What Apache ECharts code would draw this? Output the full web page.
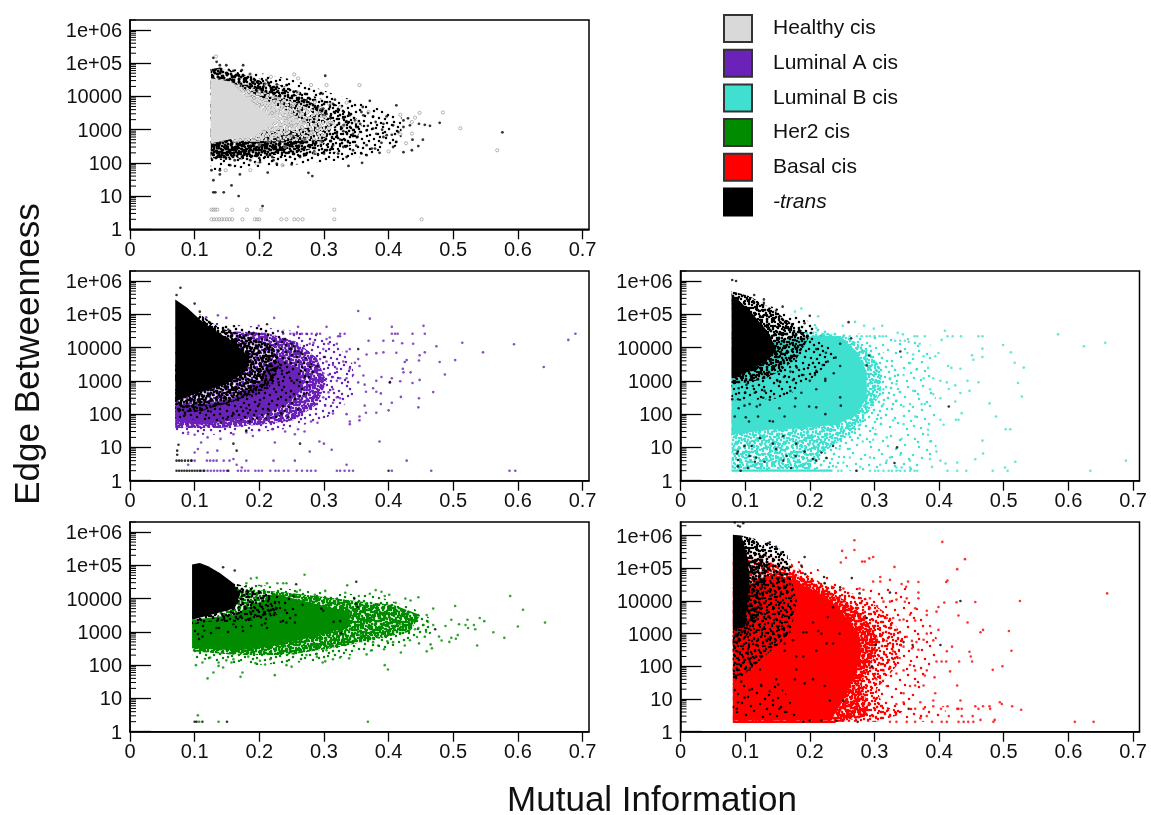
<!DOCTYPE html>
<html><head><meta charset="utf-8">
<style>html,body{margin:0;background:#fff}#c{width:1151px;height:815px}</style>
<script src="https://cdn.jsdelivr.net/npm/echarts@6/dist/echarts.min.js"></script>
</head><body><div id="c"></div>
<script>
const xTicks=[0,0.1,0.2,0.3,0.4,0.5,0.6,0.7];
const yTicks=[1,10,100,1000,10000,100000,1000000];
const yMinor=[2,3,4,5,6,7,8,9,20,30,40,50,60,70,80,90,200,300,400,500,600,700,800,900,2000,3000,4000,5000,6000,7000,8000,9000,20000,30000,40000,50000,60000,70000,80000,90000,200000,300000,400000,500000,600000,700000,800000,900000,2000000];
const yTickLabels={1:'1',10:'10',100:'100',1000:'1000',10000:'10000',100000:'1e+05',1000000:'1e+06'};
const legendNames=['Healthy cis','Luminal A cis','Luminal B cis','Her2 cis','Basal cis','-trans'];

// Healthy: outlines of the dense clouds, then individually read points
const hCore=[[.125,3.5e4],[.155,2.8e4],[.18,9800],[.211,3000],[.227,1900],[.211,1200],[.191,600],[.16,540],[.125,380]];
const hGrayFringe=[[.155,2.8e4],[.191,1.2e4],[.242,3800],[.273,1500],[.242,680],[.201,430],[.16,430]];
const hGrayOuter=[[.155,2.8e4],[.2,1.5e4],[.25,7000],[.3,3000],[.32,1500],[.3,500],[.25,450],[.2,450],[.16,430]];
const hSparse=[[.125,7.9e4],[.191,5.5e4],[.253,3.2e4],[.314,1.2e4],[.376,5000],[.42,2500],[.42,350],[.376,190],[.345,130],[.294,100],[.242,85],[.18,70],[.125,60]];
const hMed=[[.125,7e4],[.155,6.2e4],[.191,3.9e4],[.232,2.2e4],[.273,1.2e4],[.314,6500],[.345,3000],[.36,1200],[.345,350],[.314,190],[.263,150],[.191,130],[.125,120]];
const hMedInner=[[.125,7e4],[.155,6e4],[.191,3.5e4],[.232,1.8e4],[.273,8000],[.3,4000],[.315,1500],[.3,350],[.263,200],[.191,150],[.125,130]];
const hDenseLow=[[.125,430],[.125,135],[.155,150],[.191,190],[.227,240],[.258,300],[.278,540],[.242,1070],[.211,950],[.191,540],[.16,430]];
const hDenseUp=[[.125,6.5e4],[.139,7.4e4],[.165,4.4e4],[.201,1.8e4],[.227,1e4],[.191,8700],[.165,2.2e4],[.149,3e4],[.125,3.2e4]];
const hTrans=[[.129,1.45e5],[.134,1.1e5],[.139,8.7e4],[.149,8.7e4],[.175,8.7e4],[.173,6.2e4],[.16,5.9e4],[.302,4.2e4],[.294,1.2e4],[.298,1.2e4],[.317,8000],[.34,7000],[.371,7400],[.412,5400],[.36,4800],[.376,2500],[.397,2500],[.423,1900],[.43,2200],[.447,1500],[.456,1400],[.464,1300],[.479,1600],[.576,830],[.338,81],[.359,100],[.276,50],[.282,40],[.213,51],[.129,30],[.139,45],[.157,21],[.168,10],[.129,13],[.132,13],[.145,13],[.205,5],[.366,340],[.379,270],[.392,600],[.407,300],[.412,430],[.423,210],[.436,240],[.437,500],[.446,320],[.453,500],[.386,200],[.389,400],[.374,270],[.358,190],[.366,170],[.335,150],[.345,240],[.322,190],[.304,240],[.314,340],[.273,190],[.263,150],[.25,90],[.227,95],[.222,120],[.201,105],[.17,45],[.155,85],[.139,60],[.126,60],[.162,120],[.186,120],[.392,1500],[.376,1070],[.366,950],[.356,1500],[.348,1900],[.34,2700],[.33,1350],[.32,750],[.345,750],[.361,2700],[.358,3400],[.381,750],[.397,680],[.407,1350],[.415,850],[.423,1200],[.433,1350],[.314,6000],[.294,3000],[.273,7700],[.253,1.4e4],[.242,2.2e4],[.227,2.3e4],[.211,3.1e4],[.191,2.7e4],[.175,4.4e4],[.304,3000],[.322,3800],[.286,4900],[.271,1.2e4],[.299,4300],[.33,2200],[.31,2500],[.335,1800],[.35,1200],[.325,500],[.31,450],[.29,700],[.33,900],[.352,600],[.368,1300],[.38,1700],[.39,1000],[.405,700],[.285,220],[.27,280],[.26,230],[.3,190],[.33,300],[.35,330],[.22,150],[.2,140]];
const hCis=[[.133,1.6e5],[.186,4.6e4],[.218,3.9e4],[.254,4.6e4],[.26,3.5e4],[.28,2.2e4],[.304,2.2e4],[.355,2.2e4],[.286,6800],[.26,1.3e4],[.294,4500],[.325,4800],[.335,6500],[.369,3400],[.418,2800],[.448,3200],[.484,3300],[.441,2300],[.436,1700],[.511,1100],[.568,240],[.4,220],[.427,390],[.418,720],[.436,760],[.308,6000],[.286,200],[.196,95],[.236,85],[.186,60],[.148,60],[.25,1300],[.27,1900],[.29,1100],[.31,1600],[.28,800],[.245,2500],[.262,3500],[.3,2600],[.33,1300],[.35,1700],[.23,500],[.25,650],[.27,500],[.295,420],[.24,300],[.215,450],[.2,350],[.25,5000],[.235,6500],[.225,9000],[.2,1.4e4],[.21,2.2e4],
[.126,3.9],[.129,3.9],[.132,3.9],[.135,3.9],[.158,3.9],[.181,3.9],[.203,3.9],[.316,3.9],[.126,2],[.13,2],[.134,2],[.138,2],[.142,2],[.146,2],[.15,2],[.154,2],[.158,2],[.174,2],[.193,2],[.197,2],[.2,2],[.234,2],[.242,2],[.254,2],[.26,2],[.267,2],[.316,2],[.451,2]];

// Luminal A
const aSparse=[[.07,24],[.139,24],[.191,27],[.253,38],[.304,76],[.345,300],[.345,3100],[.32,1.2e4],[.294,2.5e4],[.216,3.9e4],[.139,5.5e4],[.07,5.5e4]];
const aMed=[[.07,300],[.07,38],[.139,38],[.201,48],[.253,66],[.289,190],[.304,960],[.289,4900],[.258,1.5e4],[.211,2.8e4],[.155,3.1e4]];
const aCore=[[.07,190],[.07,60],[.108,48],[.16,66],[.206,95],[.242,190],[.268,600],[.263,1950],[.232,4900],[.211,3100],[.201,960],[.16,300],[.108,190]];
const aBlack=[[.07,2.8e5],[.088,1.6e5],[.108,7e4],[.129,3.5e4],[.16,1.5e4],[.185,5000],[.18,2000],[.15,800],[.1,400],[.07,240]];
const aBlackMed=[[.108,1e5],[.139,3.9e4],[.18,2.2e4],[.22,1.2e4],[.232,3100],[.215,600],[.16,240],[.108,120],[.07,120],[.07,3000]];
const aBlackSparse=[[.139,4.9e4],[.211,3.9e4],[.253,1.2e4],[.289,2450],[.273,380],[.227,76],[.139,60],[.07,76],[.07,3000]];
const aCis=[[.353,1.26e5],[.371,7.4e4],[.223,7.8e4],[.149,7.8e4],[.136,9.3e4],[.118,8.1e4],[.304,4.2e4],[.26,4.2e4],[.199,4.5e4],[.405,4.2e4],[.454,4.5e4],[.41,2.6e4],[.405,2.6e4],[.414,2.6e4],[.437,2.6e4],[.456,2.6e4],[.689,2.6e4],[.678,1.7e4],[.594,1.26e4],[.546,7200],[.514,1.4e4],[.474,1.1e4],[.438,1.3e4],[.421,1.35e4],[.407,1.6e4],[.392,1.6e4],[.369,1.6e4],[.332,2.6e4],[.325,2.6e4],[.322,2.2e4],[.294,2.6e4],[.289,2.6e4],[.281,2.6e4],[.273,2.6e4],[.266,2.6e4],[.258,2.6e4],[.253,2.6e4],[.248,2.6e4],[.237,2.6e4],[.64,2600],[.503,4200],[.479,3700],[.487,1550],[.448,1070],[.437,860],[.469,460],[.447,300],[.446,160],[.419,330],[.418,970],[.405,1200],[.402,920],[.392,7200],[.381,6800],[.366,6200],[.412,7000],[.428,4200],[.447,4100],[.456,7200],[.448,5900],[.425,3700],[.422,2300],[.423,1800],[.434,1800],[.381,1000],[.389,1300],[.376,600],[.381,470],[.388,420],[.363,770],[.365,470],[.353,900],[.34,2300],[.345,1500],[.361,1450],[.335,1200],[.325,1200],[.32,2300],[.314,3000],[.33,3800],[.335,7600],[.34,9000],[.353,4500],[.348,3500],[.355,2800],[.299,9000],[.307,1.3e4],[.32,1.3e4],[.309,2e4],[.304,1.8e4],[.325,2.2e4],[.284,1.4e4],[.278,1.3e4],[.294,4500],[.304,3800],[.299,1700],[.307,1500],[.314,1300],[.32,1000],[.314,560],[.307,450],[.299,320],[.32,320],[.325,300],[.314,220],[.302,180],[.314,105],[.335,100],[.34,60],[.34,50],[.355,85],[.355,65],[.363,180],[.365,110],[.381,110],[.388,200],[.4,130],[.405,220],[.386,15],[.428,4],[.466,2],[.587,2],[.596,2],[.405,2],[.345,2],[.339,2],[.332,2],[.325,2],[.32,2],[.335,3],[.312,8.5],[.3,13],[.293,15],[.278,7.5],[.224,14],[.255,4],[.222,4],[.18,4],[.154,4],[.145,4],[.134,4],[.129,4],[.124,4],[.119,4],[.1,4],[.095,4],[.09,3],[.1,7],[.105,9],[.12,7],[.135,8],[.16,4.5],[.165,3],[.173,2.5],[.11,2],[.115,2],[.12,2],[.125,2],[.13,2],[.135,2],[.14,2],[.145,2],[.15,2],[.167,2],[.172,2],[.178,2],[.183,2],[.194,2],[.199,2],[.204,2],[.217,2],[.225,2],[.23,2],[.238,2],[.245,2],[.258,2],[.266,2],[.274,2],[.28,2],[.287,2],[.29,55],[.28,60],[.27,30],[.26,35],[.255,25],[.24,30],[.22,35],[.2,33],[.19,22],[.18,28],[.16,25],[.14,18],[.12,20],[.11,14],[.1,24],[.09,28]];
const aTrans=[[.078,6.3e5],[.072,3.8e5],[.1,2.1e5],[.108,1.2e5],[.212,5e4],[.236,3e4],[.191,2.8e4],[.152,3.5e4],[.353,9000],[.263,13],[.16,13],[.165,8],[.075,12],[.073,8],[.073,6],[.072,4],[.076,4],[.08,4],[.085,4],[.09,4],[.095,4],[.072,2],[.076,2],[.08,2],[.084,2],[.088,2],[.092,2],[.096,2],[.1,2],[.104,2],[.108,2],[.114,2],[.152,2],[.4,2],[.402,900],[.24,1.8e4],[.25,1.3e4],[.23,8000],[.26,7500],[.22,6000],[.24,3500],[.21,3000],[.225,1600],[.205,1300],[.28,3200],[.3,5200],[.27,1300],[.29,2800],[.22,850],[.19,500],[.165,350],[.15,200],[.13,180],[.11,130],[.085,95],[.1,160],[.125,120],[.16,100],[.18,150],[.2,200],[.215,130],[.235,100],[.21,75],[.185,60],[.15,70],[.14,55],[.245,80],[.26,140],[.18,32],[.265,7000],[.25,9000],[.235,2000],[.25,1000],[.23,900]];

// Luminal B
const bSparse=[[.079,2],[.37,2],[.396,7.5],[.396,190],[.391,1900],[.386,1.5e4],[.314,2.5e4],[.241,2.8e4],[.2,6e4],[.079,3e4]];
const bMed=[[.079,2.2],[.236,2.2],[.252,7.5],[.314,48],[.345,480],[.334,3000],[.303,1.2e4],[.252,2.5e4],[.205,5e4],[.079,5e4]];
const bInner=[[.079,2.2],[.2,2.2],[.22,7],[.27,30],[.31,400],[.31,2500],[.29,8000],[.26,2e4],[.21,3e4],[.079,3e4]];
const bCore=[[.079,1e4],[.138,1.5e4],[.21,2.3e4],[.247,2.2e4],[.272,7700],[.288,1900],[.288,300],[.272,95],[.241,48],[.19,38],[.138,34],[.079,24]];
const bRow=[[.079,2],[.235,2]];
const bBlack=[[.079,4e5],[.0915,2.5e5],[.112,1e5],[.138,2.5e4],[.148,8000],[.133,4000],[.107,2000],[.081,1200],[.079,1200]];
const bBlackMed=[[.079,5e5],[.107,3.5e5],[.138,1.6e5],[.174,5e4],[.2,2.2e4],[.18,4800],[.153,1900],[.128,1100],[.081,760]];
const bBlackSparse=[[.138,1.8e5],[.2,6e4],[.22,2e4],[.24,5000],[.2,1000],[.16,300],[.079,250],[.079,1000]];
const bCis=[[.584,2.5e4],[.657,1.4e4],[.624,1.1e4],[.499,1.2e4],[.511,7200],[.517,3500],[.531,2500],[.522,860],[.528,340],[.478,210],[.488,85],[.503,35],[.51,35],[.467,16],[.468,6.6],[.456,4.4],[.518,3.7],[.689,4],[.634,2],[.506,2],[.502,2.5],[.483,2],[.442,2],[.428,2],[.413,2],[.41,3.3],[.428,3.5],[.402,4],[.389,2.6],[.386,4.5],[.396,7.5],[.386,15],[.383,24],[.383,34],[.407,48],[.402,68],[.426,68],[.43,68],[.435,107],[.425,240],[.433,430],[.425,730],[.447,500],[.444,1000],[.461,910],[.433,2300],[.419,2450],[.414,2800],[.453,4300],[.451,5900],[.467,5200],[.467,9300],[.461,2.2e4],[.467,2.2e4],[.434,2.2e4],[.421,2.2e4],[.413,2.2e4],[.409,3.2e4],[.404,1.7e4],[.399,6900],[.394,5500],[.383,2450],[.376,5500],[.36,6200],[.351,6900],[.378,2.2e4],[.366,2.2e4],[.362,2.2e4],[.353,1.5e4],[.347,1.6e4],[.34,1.6e4],[.332,1.6e4],[.344,2.5e4],[.336,2.8e4],[.312,4.5e4],[.299,3.7e4],[.284,4.5e4],[.27,5.9e4],[.251,4.5e4],[.213,8.7e4],[.21,3.9e4],[.187,1.5e5],[.177,1.2e5],[.37,1.3e4],[.355,3400],[.365,2200],[.376,1200],[.391,1200],[.402,1000],[.412,900],[.415,570],[.402,300],[.391,400],[.386,560],[.36,500],[.345,1500],[.334,800],[.324,1200],[.314,560],[.314,200],[.334,250],[.345,170],[.355,200],[.373,200],[.378,200],[.363,85],[.345,50],[.329,65],[.319,20],[.303,25],[.324,5],[.309,3],[.293,5],[.278,2.6],[.262,5],[.252,3.5],[.241,2.6],[.355,4],[.34,6],[.342,18],[.319,4],[.298,17],[.282,15],[.262,9],[.246,9],[.334,2.5],[.342,2.5],[.355,2.5],[.244,2],[.249,2],[.273,2],[.293,2],[.301,2],[.306,2],[.314,2],[.322,2],[.327,2],[.334,2],[.34,2],[.347,2],[.355,2],[.362,2],[.366,2],[.252,2.2e4],[.262,2.2e4],[.273,2.2e4],[.28,2.2e4],[.288,2.2e4],[.293,2.2e4],[.3,2.2e4],[.308,2.2e4],[.313,2.2e4],[.318,2.2e4]];
const bTrans=[[.08,1.07e6],[.086,1e6],[.114,3.8e5],[.129,2.8e5],[.129,2.2e5],[.158,1.7e5],[.148,1.3e5],[.2,9e4],[.192,5.4e4],[.19,2.4e4],[.26,5.8e4],[.264,1.9e4],[.247,1.3e4],[.34,7600],[.292,5800],[.288,2900],[.247,2800],[.237,1700],[.224,1150],[.21,560],[.2,1000],[.247,320],[.248,180],[.224,100],[.21,160],[.199,170],[.177,170],[.178,300],[.153,150],[.161,85],[.138,270],[.123,190],[.118,170],[.107,200],[.099,180],[.09,150],[.089,280],[.08,280],[.084,85],[.101,80],[.106,60],[.12,85],[.138,62],[.143,60],[.123,19],[.159,22],[.179,13],[.236,11],[.335,10],[.331,3.4],[.272,2],[.226,4.8],[.218,7],[.205,4.5],[.21,4],[.192,7.5],[.178,5.5],[.164,5.5],[.159,4],[.148,9],[.143,13],[.13,3.7],[.117,5],[.115,3.7],[.107,5.5],[.104,2.4],[.099,11],[.11,11],[.089,7.5],[.087,6.6],[.089,4.2],[.089,2.7],[.093,2],[.171,2.4],[.415,170],[.102,760],[.115,440],[.128,310],[.154,950],[.174,1050],[.187,440],[.224,1000],[.21,2000],[.208,1500],[.228,3800],[.112,700],[.24,5000],[.225,7000],[.21,9000],[.22,3000],[.17,1900],[.18,2500],[.19,1500],[.16,1300],[.15,1000],[.13,500],[.17,500],[.1,450],[.09,600],[.14,4000],[.16,4000]];

// Her2
const gSparse=[[.096,160],[.191,100],[.294,130],[.397,320],[.464,800],[.474,2000],[.438,5100],[.376,1.3e4],[.314,1.45e4],[.258,1.8e4],[.201,2.6e4],[.096,2.6e4]];
const gMed=[[.096,260],[.165,200],[.242,200],[.314,320],[.376,570],[.433,1000],[.449,3200],[.407,6500],[.356,8100],[.294,1.15e4],[.232,1.6e4],[.165,2e4]];
const gCore=[[.096,2300],[.096,320],[.129,300],[.17,280],[.216,360],[.263,570],[.304,910],[.34,1450],[.34,4100],[.304,5800],[.263,9100],[.227,1.3e4],[.191,6500],[.16,3200]];
const gBlack=[[.096,1.05e5],[.108,1.18e5],[.121,9.3e4],[.139,5.9e4],[.16,2.9e4],[.17,1.3e4],[.162,5100],[.124,3200],[.096,2300]];
const gBlackMed=[[.162,2.9e4],[.206,1.6e4],[.232,8100],[.227,3200],[.18,2000],[.119,2000],[.096,1600],[.096,3000]];
const gBlackSparse=[[.206,1.6e4],[.258,1e4],[.258,2600],[.212,1000],[.139,900],[.096,460],[.096,1600],[.18,2000]];
const gCis=[[.588,1.2e4],[.608,4600],[.6,1450],[.642,1900],[.579,660],[.562,970],[.548,2100],[.541,2600],[.537,390],[.534,1200],[.532,1600],[.522,2300],[.523,1300],[.509,1700],[.519,1600],[.503,6000],[.497,2300],[.488,1500],[.507,800],[.504,620],[.497,660],[.494,500],[.482,550],[.478,720],[.469,5000],[.459,3200],[.446,1.1e4],[.434,8800],[.426,1e4],[.411,7500],[.401,1.3e4],[.394,1.2e4],[.389,1.6e4],[.38,1.8e4],[.371,1.4e4],[.354,1.2e4],[.336,2.5e4],[.302,1.7e4],[.27,5.2e4],[.242,2.9e4],[.237,2.9e4],[.228,2.9e4],[.212,2.9e4],[.196,4.2e4],[.187,4e4],[.18,2.9e4],[.203,2.4e4],[.263,1.8e4],[.258,1.6e4],[.286,1.3e4],[.32,1e4],[.333,1.5e4],[.428,3500],[.418,1700],[.433,1200],[.441,1200],[.446,1300],[.454,1600],[.461,2000],[.469,1600],[.444,700],[.447,450],[.433,560],[.425,390],[.419,240],[.407,490],[.398,520],[.393,300],[.384,390],[.376,490],[.374,280],[.366,210],[.399,74],[.394,100],[.339,160],[.325,170],[.314,150],[.302,130],[.298,120],[.289,180],[.289,220],[.304,280],[.32,400],[.335,600],[.345,760],[.356,800],[.467,320],[.465,420],[.459,260],[.456,710],[.458,1000],[.25,90],[.242,100],[.224,50],[.217,150],[.209,105],[.201,135],[.194,115],[.183,180],[.174,60],[.171,45],[.16,150],[.157,120],[.149,140],[.144,85],[.137,95],[.129,60],[.12,40],[.102,100],[.112,120],[.124,170],[.137,120],[.253,220],[.273,200],[.283,400],[.294,370],[.105,3.1],[.137,2],[.368,2],[.107,2]];
const gTrans=[[.1,2],[.103,2],[.112,2],[.15,2],[.35,3.2e4],[.347,1e4],[.352,5500],[.35,7000],[.472,1200],[.327,900],[.315,2000],[.325,2100],[.299,4300],[.296,5000],[.267,6500],[.257,2.7e4],[.253,1.2e4],[.24,4500],[.227,5100],[.224,3700],[.209,3400],[.256,3200],[.255,1900],[.242,1900],[.233,2000],[.204,1600],[.209,1800],[.186,2500],[.16,1700],[.174,1400],[.134,1300],[.115,1100],[.112,720],[.162,7e4],[.144,8.7e4]];

// Basal
const rSparse=[[.081,2],[.41,2],[.41,6],[.36,6],[.39,50],[.4,400],[.39,2000],[.36,8000],[.35,2.5e4],[.26,2.5e4],[.24,4e4],[.2,1.4e5],[.12,3e5],[.081,3e5]];
const rMed=[[.081,2],[.303,2],[.35,3.9],[.314,6],[.303,20],[.334,100],[.345,700],[.324,3500],[.288,1.1e4],[.257,2e4],[.205,4.7e4],[.169,1.5e5],[.128,3e5],[.081,3e5]];
const rInner=[[.081,2],[.25,2],[.29,3],[.29,6],[.28,30],[.3,200],[.305,800],[.285,3000],[.26,9000],[.23,2e4],[.19,5e4],[.14,1.5e5],[.081,2e5]];
const rCore=[[.081,2.2],[.232,2.2],[.25,8],[.27,50],[.28,260],[.275,1100],[.25,4500],[.225,1.4e4],[.2,2.3e4],[.18,4e4],[.154,6e4],[.12,5e4],[.081,1e4]];
const rRow=[[.081,2],[.24,2]];
const rBlack=[[.081,1.05e6],[.094,1e6],[.102,3.1e5],[.107,5.8e4],[.104,1e4],[.099,1600],[.081,1300]];
const rBlackMed=[[.094,1e6],[.115,8e5],[.132,3.5e5],[.135,1e5],[.13,2e4],[.12,3000],[.1,700],[.081,300],[.081,1300]];
const rBlackSparse=[[.13,7e5],[.165,3e5],[.17,6e4],[.18,1e4],[.17,1000],[.14,300],[.1,60],[.081,30],[.081,1300]];
const rBlackThin=[[.081,30],[.15,30],[.19,3],[.081,2.2]];
const rCis=[[.66,1.7e4],[.525,1e4],[.456,9300],[.427,9100],[.408,8900],[.399,6500],[.396,4700],[.381,5000],[.405,6.4e5],[.44,1.9e5],[.428,9.4e4],[.413,4.2e4],[.411,3.8e4],[.269,7.2e5],[.269,3.6e5],[.25,3.4e5],[.256,2.1e5],[.248,1.5e5],[.298,2.2e5],[.292,2e5],[.285,1.6e5],[.281,1.6e5],[.331,1.1e5],[.309,5.4e4],[.309,3.9e4],[.298,3.9e4],[.324,4.4e4],[.368,3.8e4],[.352,3.9e4],[.349,2.7e4],[.342,3.3e4],[.368,1.8e4],[.368,1.2e4],[.35,1.2e4],[.347,9400],[.363,6000],[.355,3800],[.381,3700],[.43,3600],[.444,2200],[.468,1300],[.464,1100],[.508,1200],[.386,1700],[.399,1300],[.381,1000],[.391,620],[.42,400],[.412,290],[.396,140],[.404,140],[.411,140],[.431,140],[.447,280],[.451,140],[.449,200],[.512,300],[.498,100],[.483,78],[.417,70],[.381,75],[.378,52],[.393,46],[.376,26],[.363,26],[.428,26],[.394,15],[.391,9],[.433,9],[.43,5],[.435,5],[.456,6],[.468,6],[.494,8],[.497,7],[.513,6],[.527,4.7],[.479,5],[.478,6],[.461,5],[.428,5],[.413,6],[.403,5],[.391,6],[.376,5],[.371,8],[.363,5],[.345,8],[.334,7],[.61,2],[.639,2],[.486,2.3],[.484,2],[.464,2.3],[.452,3],[.453,2],[.445,2],[.438,2],[.43,2],[.435,3],[.415,3],[.412,2],[.404,2],[.389,2],[.381,3],[.371,2.6],[.363,2],[.35,2],[.334,2],[.324,2],[.376,650],[.368,320],[.358,350],[.35,800],[.358,600],[.345,400],[.365,550],[.334,1300],[.324,1500],[.345,2700],[.319,3000],[.329,3000],[.339,2600],[.363,2500],[.324,9500],[.314,9500],[.304,7000],[.334,1.1e4],[.293,1.2e4],[.283,2.2e4],[.277,2.4e4],[.252,2.4e4],[.319,600],[.329,290],[.339,180],[.324,90],[.334,60],[.345,75],[.355,110],[.363,75],[.355,25],[.345,15],[.319,25],[.303,40],[.314,75]];
const rTrans=[[.084,2.5e6],[.089,2e6],[.097,2.4e6],[.092,1.9e6],[.138,6.2e5],[.148,4.5e5],[.156,3e5],[.192,2.2e5],[.169,1.1e5],[.187,1.2e5],[.193,6.6e4],[.222,5.4e4],[.265,5e4],[.223,3.5e4],[.277,1.7e4],[.324,1.8e4],[.433,1e4],[.236,6400],[.228,3200],[.246,1000],[.302,450],[.345,550],[.359,450],[.402,450],[.296,100],[.252,9],[.353,5],[.19,200],[.21,300],[.179,200],[.226,500],[.236,500],[.218,1000],[.205,2200],[.213,1200],[.195,1100],[.19,1100],[.153,880],[.164,1000],[.161,500],[.174,630],[.161,300],[.117,130],[.107,160],[.104,280],[.089,280],[.087,88],[.089,55],[.094,34],[.107,80],[.123,80],[.148,40],[.151,28],[.138,17],[.143,9],[.153,5],[.164,4],[.179,80],[.177,40],[.192,30],[.205,40],[.223,25],[.231,9],[.218,2.2],[.19,2],[.2,2.2],[.241,2.2],[.274,2],[.087,5],[.089,8],[.107,19],[.099,11],[.125,25],[.288,3000],[.247,2.6e4]];

// Speckle texture used to fill the outlines of the medium-density parts of each cloud
const tile=[[3,7],[11,2],[19,9],[27,4],[36,8],[44,3],[7,15],[15,18],[24,14],[32,17],[41,13],[1,23],[10,26],[18,22],[28,25],[37,21],[45,27],[5,33],[13,35],[22,31],[31,34],[40,32],[47,37],[2,42],[9,44],[17,40],[26,43],[34,39],[43,45],[6,10],[14,5],[22,3],[30,11],[39,1],[46,16],[4,19],[12,12],[20,16],[29,20],[35,27],[43,22],[8,29],[16,27],[25,36],[33,45],[42,38],[1,36],[11,38],[19,46],[28,30],[38,43],[46,9],[23,25],[6,47],[14,31],[34,5],[41,29],[3,27],[25,9],[17,34],[44,41],[31,40],[9,21],[38,15],[21,41],[47,31],[12,46],[28,47],[36,33],[16,10],[2,13],[42,6]];
const shifts=[[0,0],[17,23],[31,7],[9,37],[41,29],[23,13],[5,19],[37,41],[13,5],[29,33]];
const LEVELS={T:[1,30],S:[1,72],M:[3,72],D:[6,72],H:[10,72]};
function pat(color,lvl){const c=document.createElement('canvas');c.width=c.height=48;const x=c.getContext('2d');x.fillStyle=color;
 const [n,m]=LEVELS[lvl];for(let s=0;s<n;s++)for(let i=0;i<m;i++){for(const ox of[-48,0,48])for(const oy of[-48,0,48]){x.beginPath();x.arc(((tile[i][0]+shifts[s][0])%48)+ox,((tile[i][1]+shifts[s][1])%48)+oy,1.25,0,7);x.fill();}}
 return {image:c,repeat:'repeat'};}

function frameAxes(i,max){return {x:{type:'value',gridIndex:i,min:0,max:.71,interval:.1,
 axisLine:{onZero:false,lineStyle:{color:'#000',width:1.5}},splitLine:{show:false},
 axisTick:{customValues:xTicks,length:10,inside:false,lineStyle:{color:'#000',width:1.3}},
 axisLabel:{customValues:xTicks,margin:11,fontSize:20,color:'#111',fontFamily:'Liberation Sans',formatter:v=>String(+(+v).toFixed(1))}},
 y:{type:'log',logBase:10,gridIndex:i,min:1,max:max,
 axisLine:{lineStyle:{color:'#000',width:1.5}},splitLine:{show:false},
 axisTick:{customValues:yTicks,inside:true,length:21,lineStyle:{color:'#000',width:1.3}},
 axisLabel:{customValues:yTicks,margin:8,fontSize:20,color:'#111',fontFamily:'Liberation Sans',verticalAlign:'top',lineHeight:3,formatter:v=>yTickLabels[Math.round(v)]||''}}};}
const grids=[{left:130,top:20,width:459,height:209.3},{left:130,top:271,width:459,height:209.7},{left:680.5,top:271,width:459,height:209.7},{left:130,top:522,width:459,height:209.7},{left:680.5,top:522,width:459,height:209.7}];
const maxes=[2e6,2e6,2e6,2e6,2.6e6];
const ax=maxes.map((m,i)=>frameAxes(i,m));
function poly(i,name,pts,fill,z){return {type:'custom',name,xAxisIndex:i,yAxisIndex:i,z,silent:true,data:pts,encode:{x:0,y:1},
 renderItem:(p,api)=>p.dataIndex?null:{type:'polygon',shape:{points:pts.map(q=>api.coord(q))},style:{fill}}};}
function dots(i,name,pts,color,size,z,hollow){return {type:'scatter',name,xAxisIndex:i,yAxisIndex:i,z,silent:true,data:pts,symbol:'circle',symbolSize:size,
 itemStyle:hollow?{color:'rgba(255,255,255,0.4)',borderColor:'#8a8a8a',borderWidth:.8}:{color}};}
function row(i,name,pts,color,z){return {type:'custom',name,xAxisIndex:i,yAxisIndex:i,z,silent:true,data:pts,encode:{x:0,y:1},
 renderItem:(p,api)=>{if(p.dataIndex)return null;const a=api.coord(pts[0]),b=api.coord(pts[1]);return {type:'line',shape:{x1:a[0],y1:a[1],x2:b[0],y2:b[1]},style:{stroke:color,lineWidth:2.2}};}};}
function minor(i){return {type:'custom',xAxisIndex:i,yAxisIndex:i,z:20,silent:true,data:yMinor.map(v=>[0,v]),encode:{x:0,y:1},
 renderItem:(p,api)=>{const c=api.coord([0,api.value(1)]);return {type:'line',shape:{x1:c[0],y1:c[1],x2:c[0]+6,y2:c[1]},style:{stroke:'#000',lineWidth:1}};}};}
const K='#000',GR='#d9d9d9',P='#6b22b8',T='#40e0d0',G='#008b00',R='#ff0000',N=legendNames;
const series=[
 poly(0,N[5],hSparse,pat(K,'S'),2),poly(0,N[5],hMed,pat(K,'M'),2),poly(0,N[5],hMedInner,pat(K,'D'),2),poly(0,N[5],hDenseLow,pat(K,'H'),2),poly(0,N[5],hDenseUp,pat(K,'D'),2),
 dots(0,N[5],hTrans,K,2.8,3),poly(0,N[0],hGrayOuter,pat(GR,'M'),4),poly(0,N[0],hGrayFringe,pat(GR,'D'),4),poly(0,N[0],hCore,GR,5),dots(0,N[0],hCis,GR,3.2,6,true),
 poly(1,N[1],aSparse,pat(P,'S'),2),poly(1,N[1],aMed,pat(P,'H'),3),poly(1,N[1],aCore,P,4),dots(1,N[1],aCis,P,2.6,5),
 poly(1,N[5],aBlackSparse,pat(K,'S'),6),poly(1,N[5],aBlackMed,pat(K,'D'),7),poly(1,N[5],aBlack,K,8),dots(1,N[5],aTrans,K,2.6,9),
 poly(2,N[2],bSparse,pat(T,'T'),2),poly(2,N[2],bMed,pat(T,'S'),3),poly(2,N[2],bInner,pat(T,'D'),3),poly(2,N[2],bCore,T,4),row(2,N[2],bRow,T,5),dots(2,N[2],bCis,T,2.6,5),
 poly(2,N[5],bBlackSparse,pat(K,'S'),6),poly(2,N[5],bBlackMed,pat(K,'D'),7),poly(2,N[5],bBlack,K,8),dots(2,N[5],bTrans,K,2.6,9),
 poly(3,N[3],gSparse,pat(G,'S'),2),poly(3,N[3],gMed,pat(G,'H'),3),poly(3,N[3],gCore,G,4),dots(3,N[3],gCis,G,2.6,5),
 poly(3,N[5],gBlackSparse,pat(K,'T'),6),poly(3,N[5],gBlackMed,pat(K,'M'),7),poly(3,N[5],gBlack,K,8),dots(3,N[5],gTrans,K,2.6,9),
 poly(4,N[4],rSparse,pat(R,'T'),2),poly(4,N[4],rMed,pat(R,'M'),3),poly(4,N[4],rInner,pat(R,'H'),3),poly(4,N[4],rCore,R,4),row(4,N[4],rRow,R,5),dots(4,N[4],rCis,R,2.6,5),
 poly(4,N[5],rBlackThin,pat(K,'T'),6),poly(4,N[5],rBlackSparse,pat(K,'M'),6),poly(4,N[5],rBlackMed,pat(K,'D'),7),poly(4,N[5],rBlack,K,8),dots(4,N[5],rTrans,K,2.6,9),
 minor(0),minor(1),minor(2),minor(3),minor(4)];
const swatch=[GR,P,T,G,R,K];
const chart=echarts.init(document.getElementById('c'),null,{renderer:'canvas'});
chart.setOption({animation:false,backgroundColor:'#fff',
 grid:grids.map(g=>({...g,show:true,borderColor:'#000',borderWidth:1.5,backgroundColor:'#fff'})),
 xAxis:ax.map(a=>a.x),yAxis:ax.map(a=>a.y),series,
 legend:{left:723,top:14,padding:0,orient:'vertical',itemWidth:28,itemHeight:27,itemGap:5.7,selectedMode:false,
  textStyle:{fontSize:21,color:'#111',fontFamily:'Liberation Sans',padding:[0,0,0,16]},
  data:N.map((n,i)=>({name:n,icon:'rect',itemStyle:{color:swatch[i],borderColor:i==5?'#000':'#333',borderWidth:2,opacity:1},textStyle:i==5?{fontStyle:'italic'}:{}}))},
 graphic:[
  {type:'text',rotation:Math.PI/2,x:29,y:354,style:{text:'Edge Betweenness',fontSize:35,fontFamily:'Liberation Sans',fill:'#111',textAlign:'center',textVerticalAlign:'middle'}},
  {type:'text',x:652,y:801,style:{text:'Mutual Information',fontSize:35,fontFamily:'Liberation Sans',fill:'#111',textAlign:'center',textVerticalAlign:'middle'}}]
});
</script></body></html>
